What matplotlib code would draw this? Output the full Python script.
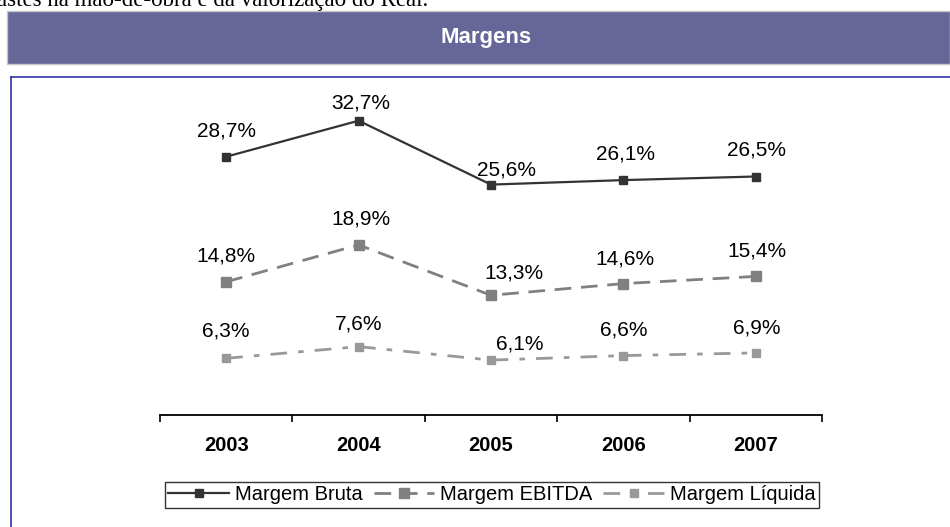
import matplotlib.pyplot as plt
from matplotlib.patches import Rectangle
from matplotlib.lines import Line2D

plt.rcParams['font.family'] = ['Liberation Sans', 'DejaVu Sans']

anos = ['2003', '2004', '2005', '2006', '2007']

margem_bruta = [28.7, 32.7, 25.6, 26.1, 26.5]
margem_ebitda = [14.8, 18.9, 13.3, 14.6, 15.4]
margem_liquida = [6.3, 7.6, 6.1, 6.6, 6.9]

# deslocamento dos rótulos (pixels) em relação ao ponto
desloc_bruta = [(0, 26), (2, 18), (15, 15), (2, 26), (1, 26)]
desloc_ebitda = [(0, 26), (2, 26), (23, 22), (2, 25), (1, 25)]
desloc_liquida = [(0, 27), (0, 23), (29, 16), (0, 26), (1, 25)]

W, H = 950, 527


def fx(px):
    return px / W


def fy(py):
    return 1 - py / H


fig = plt.figure(figsize=(9.5, 5.27), dpi=100)

# texto cortado do topo da página
fig.text(fx(-3), fy(6), 'astes na mão-de-obra e da valorização do Real.',
         family='Liberation Serif', fontsize=16.5, va='baseline', ha='left')

# faixa do título
fig.add_artist(Rectangle((fx(7), fy(64)), fx(950) - fx(7), fy(11) - fy(64),
                         transform=fig.transFigure, facecolor='#666699',
                         edgecolor='#c4c8c4', linewidth=1))
fig.text(fx(486), fy(38), 'Margens', color='white', fontsize=16,
         fontweight='bold', ha='center', va='center')

# moldura azul
fig.add_artist(Line2D([fx(10.5), fx(10.5)], [fy(77), 0], transform=fig.transFigure,
                      color='#3333aa', linewidth=1.2))
fig.add_artist(Line2D([fx(10.5), 1], [fy(77), fy(77)], transform=fig.transFigure,
                      color='#3333aa', linewidth=1.2))

ax = fig.add_axes([fx(160), fy(415), fx(822) - fx(160), fy(100) - fy(415)])

x = list(range(len(anos)))

series = [
    ('Margem Bruta', margem_bruta, desloc_bruta,
     dict(color='#333333', linestyle='-', linewidth=1.6, marker='s', markersize=5.5)),
    ('Margem EBITDA', margem_ebitda, desloc_ebitda,
     dict(color='#808080', linestyle=(0, (6, 3.5)), linewidth=2, marker='s', markersize=7.5)),
    ('Margem Líquida', margem_liquida, desloc_liquida,
     dict(color='#999999', linestyle=(0, (6, 4, 2, 4)), linewidth=2, marker='s', markersize=5.5)),
]

for nome, valores, desloc, estilo in series:
    ax.plot(x, valores, label=nome, **estilo)
    for xi, v, (dx, dy) in zip(x, valores, desloc):
        ax.annotate(f'{v:.1f}%'.replace('.', ','), xy=(xi, v), xytext=(dx, dy),
                    textcoords='offset pixels', ha='center', va='center',
                    fontsize=15, color='black')

ax.set_xlim(-0.5, len(anos) - 0.5)
ax.set_ylim(0, 35)

for lado in ['top', 'right', 'left']:
    ax.spines[lado].set_visible(False)
ax.spines['bottom'].set_linewidth(1.3)
ax.set_yticks([])

ax.set_xticks(x)
ax.set_xticklabels(anos, fontsize=14.5, fontweight='bold')
ax.tick_params(axis='x', which='major', length=0, pad=15)
ax.set_xticks([i - 0.5 for i in range(len(anos) + 1)], minor=True)
ax.tick_params(axis='x', which='minor', length=5, width=1.2, direction='out')

leg = fig.legend(loc='center', bbox_to_anchor=(fx(492), fy(495)), ncol=3,
                 fontsize=14.5, frameon=True, fancybox=False, edgecolor='black',
                 handlelength=3.0, handletextpad=0.3, columnspacing=0.55,
                 borderpad=0.15, borderaxespad=0)
leg.get_frame().set_linewidth(1)

fig.savefig('out.png', dpi=100)
